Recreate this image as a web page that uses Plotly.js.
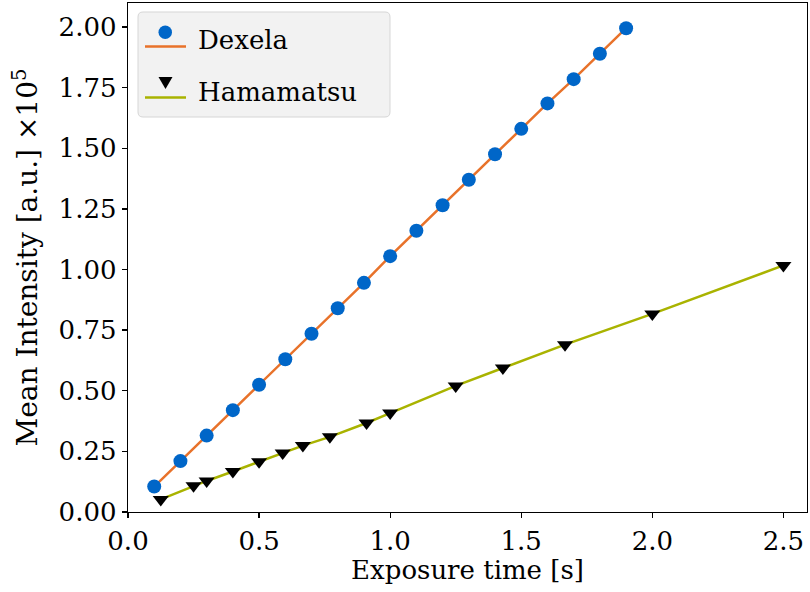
<!DOCTYPE html>
<html>
<head>
<meta charset="utf-8">
<script src="https://cdn.plot.ly/plotly-3.0.1.min.js"></script>
<style>html,body{margin:0;padding:0;background:#fff;}#chart{width:810px;height:592px;}</style>
</head>
<body>
<div id="chart"></div>
<script>
// Data (intensity in units of 1e5)
const dexelaTime = [0.1, 0.2, 0.3, 0.4, 0.5, 0.6, 0.7, 0.8, 0.9, 1.0, 1.1, 1.2, 1.3, 1.4, 1.5, 1.6, 1.7, 1.8, 1.9];
const dexelaIntensity = [0.105, 0.21, 0.315, 0.42, 0.525, 0.63, 0.735, 0.84, 0.945, 1.055, 1.16, 1.265, 1.37, 1.475, 1.58, 1.685, 1.785, 1.89, 1.995];
const hamaTime = [0.125, 0.25, 0.3, 0.4, 0.5, 0.59, 0.667, 0.77, 0.91, 1.0, 1.25, 1.43, 1.667, 2.0, 2.5];
const hamaIntensity = [0.052, 0.108, 0.128, 0.167, 0.207, 0.243, 0.274, 0.31, 0.367, 0.408, 0.52, 0.594, 0.69, 0.817, 1.017];
const seriesNames = ["Dexela", "Hamamatsu"];
const xTicks = [0, 0.5, 1.0, 1.5, 2.0, 2.5];
const xTickText = ["0.0", "0.5", "1.0", "1.5", "2.0", "2.5"];
const yTicks = [0, 0.25, 0.5, 0.75, 1.0, 1.25, 1.5, 1.75, 2.0];
const yTickText = ["0.00", "0.25", "0.50", "0.75", "1.00", "1.25", "1.50", "1.75", "2.00"];

const BLUE = "#0066c8", ORANGE = "#e8722a", GREEN = "#a9b300";
const FONT = "DejaVu Serif, Liberation Serif, serif";
const W = 810, H = 592, ML = 128, MR = 3, MT = 3, MB = 80;
const PW = W - ML - MR, PH = H - MT - MB;
const px = x => (x - ML) / PW;
const py = y => (H - MB - y) / PH;

const traces = [
  {x: dexelaTime, y: dexelaIntensity, mode: "lines", line: {color: ORANGE, width: 2.5}, showlegend: false, hoverinfo: "skip"},
  {x: hamaTime, y: hamaIntensity, mode: "lines", line: {color: GREEN, width: 2.5}, showlegend: false, hoverinfo: "skip"},
  {x: dexelaTime, y: dexelaIntensity, mode: "markers", name: seriesNames[0], marker: {color: BLUE, size: 14, symbol: "circle"}, showlegend: false},
  {x: hamaTime, y: hamaIntensity, mode: "markers", name: seriesNames[1], marker: {color: "#000000", size: 14, symbol: "triangle-down"}, showlegend: false}
];

// Custom legend (marker above line, like the reference)
const bx0 = 138, bx1 = 390, by0 = 12, by1 = 117, r = 5;
function rr(x0, y0, x1, y1, r) {
  const X = v => px(v).toFixed(5), Y = v => py(v).toFixed(5);
  return `M ${X(x0 + r)} ${Y(y0)} L ${X(x1 - r)} ${Y(y0)} Q ${X(x1)} ${Y(y0)} ${X(x1)} ${Y(y0 + r)} L ${X(x1)} ${Y(y1 - r)} Q ${X(x1)} ${Y(y1)} ${X(x1 - r)} ${Y(y1)} L ${X(x0 + r)} ${Y(y1)} Q ${X(x0)} ${Y(y1)} ${X(x0)} ${Y(y1 - r)} L ${X(x0)} ${Y(y0 + r)} Q ${X(x0)} ${Y(y0)} ${X(x0 + r)} ${Y(y0)} Z`;
}
const shapes = [
  {type: "path", xref: "paper", yref: "paper", path: rr(bx0, by0, bx1, by1, r), fillcolor: "#f2f2f2", line: {color: "#d6d6d6", width: 1}},
  {type: "line", xref: "paper", yref: "paper", x0: px(145), x1: px(186), y0: py(46.5), y1: py(46.5), line: {color: ORANGE, width: 2.5}},
  {type: "circle", xref: "paper", yref: "paper", x0: px(158.5), x1: px(172), y0: py(25.5), y1: py(39), fillcolor: BLUE, line: {width: 0}},
  {type: "line", xref: "paper", yref: "paper", x0: px(145), x1: px(186), y0: py(97.5), y1: py(97.5), line: {color: GREEN, width: 2.5}},
  {type: "path", xref: "paper", yref: "paper", path: `M ${px(158.5)} ${py(77)} L ${px(172.5)} ${py(77)} L ${px(165.5)} ${py(89)} Z`, fillcolor: "#000000", line: {width: 0}}
];
const annotations = [
  {xref: "paper", yref: "paper", x: px(196), y: py(40.5), xanchor: "left", yanchor: "middle", text: seriesNames[0], showarrow: false, font: {family: FONT, size: 26, color: "#000"}},
  {xref: "paper", yref: "paper", x: px(196), y: py(92), xanchor: "left", yanchor: "middle", text: seriesNames[1], showarrow: false, font: {family: FONT, size: 26, color: "#000"}}
];

const axisCommon = {
  showgrid: false, zeroline: false, showline: true, mirror: true, linecolor: "#000", linewidth: 1.3,
  ticks: "outside", ticklen: 5, tickwidth: 1.3, tickcolor: "#000",
  tickfont: {family: FONT, size: 26, color: "#000"}, fixedrange: true
};

const layout = {
  width: W, height: H,
  margin: {l: ML, r: MR, t: MT, b: MB, pad: 0},
  paper_bgcolor: "#fff", plot_bgcolor: "#fff",
  xaxis: Object.assign({}, axisCommon, {
    range: [0, 2.59], tickvals: xTicks, ticktext: xTickText,
    title: {text: "Exposure time [s]", font: {family: FONT, size: 26, color: "#000"}, standoff: 0}
  }),
  yaxis: Object.assign({}, axisCommon, {
    range: [0, 2.099], tickvals: yTicks, ticktext: yTickText,
    title: {text: "Mean Intensity [a.u.] ×10<sup>5</sup>", font: {family: FONT, size: 28, color: "#000"}, standoff: 12}
  }),
  shapes: shapes,
  annotations: annotations,
  showlegend: false
};

Plotly.newPlot("chart", traces, layout, {displayModeBar: false, staticPlot: true});
</script>
</body>
</html>
